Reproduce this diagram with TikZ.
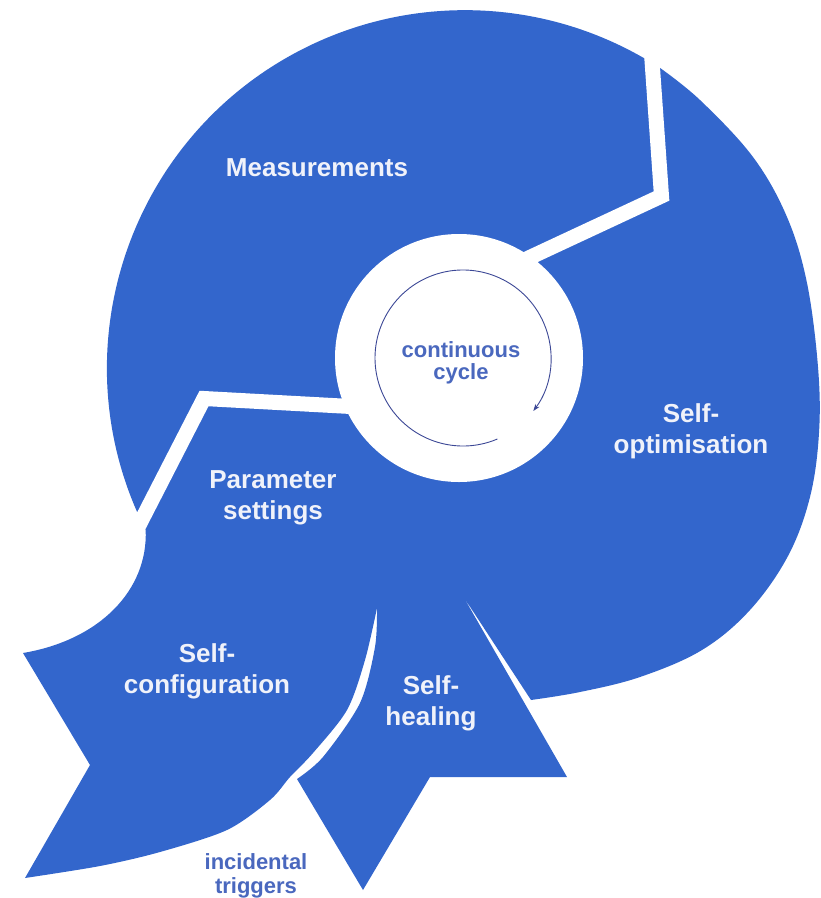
\documentclass[tikz,border=0pt]{standalone}
\usepackage{fontspec}
\setmainfont{Liberation Sans}
\usetikzlibrary{arrows.meta}
\definecolor{sonblue}{RGB}{51,102,204}
\definecolor{labelwhite}{RGB}{240,242,250}
\definecolor{cyclecol}{RGB}{74,104,190}
\definecolor{ringline}{RGB}{60,72,150}
\begin{document}
\begin{tikzpicture}[x=1pt,y=-1pt,
  lbl/.style={font=\fontsize{26}{31}\selectfont\bfseries, text=labelwhite, align=center, inner sep=0pt, anchor=north},
  cyc/.style={font=\fontsize{22}{22}\selectfont\bfseries, text=cyclecol, align=center, inner sep=0pt, anchor=north},
  gapband/.style={white, line width=15pt, line join=miter}]
\useasboundingbox (0,0) rectangle (821,898);
% blue body
\fill[sonblue] (145.7,530.1) arc[start angle=153.1, end angle=302.8, radius=358]
  -- plot[smooth, tension=0.6] coordinates {(658.9,67.1) (700,100) (753,157) (787,217) (807,283) (818,367) (819,433) (810,497) (788,556) (750,610) (702,650) (640,677) (580,692) (531,700)}
  -- (463,596) -- (567,777) -- (430,777) -- (363,890) -- (297,779)
  -- plot[smooth, tension=0.5] coordinates {(297,779) (323,757) (360,703) (375,647) (377,608)}
  -- plot[smooth, tension=0.5] coordinates {(377,608) (365,660) (347,710) (313,753) (290,777) (270,800) (227,830) (160,852) (100,866) (25,878)}
  -- (90,765) -- (23,653)
  .. controls (100,640) and (148,590) .. (145.7,530.1) -- cycle;
% white separating bands
\draw[gapband] (649.5,25) -- (661.5,196) -- (520,262);
\draw[gapband] (360,407) -- (204,398.5) -- (135,533);
% central white disc
\fill[white] (459,358) circle[radius=124];
% continuous cycle ring
\draw[ringline, line width=0.9pt, -{Stealth[length=7pt,width=5pt]}] (497.4,439.0) arc[start angle=67, end angle=397, radius=88];
% labels
\node[lbl] (meas) at (317,158) {Measurements};
\node[lbl] (opt) at (691,403) {Self-\\optimisation};
\node[lbl] (par) at (273,470) {Parameter\\settings};
\node[lbl] (conf) at (207,643) {Self-\\configuration};
\node[lbl] (heal) at (431,675) {Self-\\healing};
\node[cyc] (cont) at (461,341) {continuous\\cycle};
\node[cyc, font=\fontsize{22}{24}\selectfont\bfseries] (inc) at (256,853) {incidental\\triggers};
\end{tikzpicture}
\end{document}
